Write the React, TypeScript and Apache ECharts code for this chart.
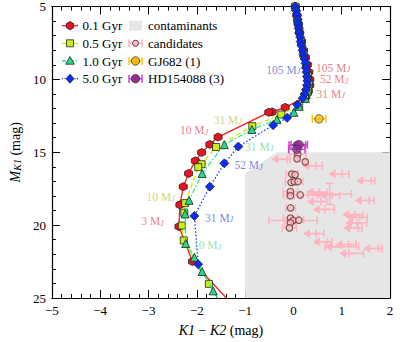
import React, { useEffect, useRef } from "react";
import * as echarts from "echarts";

const FONT = "'Liberation Serif', 'DejaVu Serif', serif";

// ---------- Isochrone tracks: K1-K2 (x) vs M_K1 (y) ----------
const gyr01X = [0.04, 0.07, 0.10, 0.13, 0.17, 0.21, 0.25, 0.29, 0.32, 0.34, 0.34, 0.31, 0.26, -0.17, -0.44, -0.51, -1.56, -1.73, -1.90, -2.03, -2.17, -2.28, -2.35, -2.37, -2.09, -1.25];
const gyr01Y = [5.0, 5.6, 6.2, 6.8, 7.4, 8.0, 8.5, 9.0, 9.5, 10.0, 10.4, 10.8, 11.2, 11.92, 12.23, 12.26, 13.96, 14.46, 15.02, 15.59, 16.45, 17.36, 18.61, 20.10, 22.50, 25.5];

const gyr05X = [0.04, 0.08, 0.12, 0.16, 0.21, 0.26, 0.30, 0.32, 0.30, 0.24, 0.12, -0.25, -0.85, -1.60, -1.90, -1.97, -2.24, -2.26, -2.31, -2.27, -1.75, -1.5];
const gyr05Y = [5.0, 5.8, 6.6, 7.4, 8.2, 9.0, 9.7, 10.3, 10.8, 11.3, 11.8, 12.41, 13.21, 14.64, 15.82, 16.02, 18.49, 19.15, 20.03, 21.05, 24.03, 25.4];

const gyr10X = [0.04, 0.08, 0.12, 0.16, 0.21, 0.26, 0.30, 0.32, 0.30, 0.25, 0.12, 0.01, -0.34, -0.86, -1.43, -1.89, -2.16, -2.24, -2.23, -2.05, -1.89, -1.66, -1.5];
const gyr10Y = [5.0, 5.8, 6.6, 7.4, 8.2, 9.0, 9.7, 10.3, 10.8, 11.3, 11.85, 12.26, 12.76, 13.44, 14.48, 16.46, 18.30, 19.23, 21.26, 22.21, 23.18, 24.51, 25.4];

const gyr50X = [0.04, 0.06, 0.08, 0.09, 0.10, 0.11, 0.12, 0.14, 0.15, 0.17, 0.19, 0.21, 0.23, 0.25, 0.26, 0.27, 0.28, 0.29, 0.28, 0.26, 0.23, 0.19, 0.08, -0.13, -0.42, -1.14, -1.43, -1.73, -2.05, -1.97];
const gyr50Y = [5.0, 5.3, 5.6, 5.9, 6.2, 6.5, 6.8, 7.1, 7.4, 7.7, 8.0, 8.3, 8.6, 8.9, 9.2, 9.5, 9.8, 10.1, 10.4, 10.7, 11.0, 11.3, 11.73, 12.64, 13.14, 14.61, 15.76, 17.36, 19.37, 22.69];

// ---------- Mass labels ----------
const annoX = [-0.56, 0.47, 0.55, 0.48, -1.65, -2.35, -1.0, -1.22, -3.04, -3.15, -1.83, -2.08];
const annoY = [9.35, 9.2, 10.0, 11.0, 12.76, 13.5, 14.61, 15.88, 18.04, 19.72, 19.5, 21.37];
const annoMass = ["105", "105", "52", "31", "31", "10", "31", "52", "10", "3", "31", "10"];
const annoTrack = [3, 0, 0, 0, 1, 0, 2, 3, 1, 0, 3, 2];

// ---------- Candidates ----------
const candX = [0.09, 0.076, 0.245, -0.033, 0.035, -0.047, 0.02, 0.096, -0.062, -0.062, 0.141, -0.058, -0.062, -0.006, 0.113, -0.062, -0.082];
const candY = [15.14, 15.44, 15.66, 16.5, 16.54, 17.07, 17.02, 17.01, 17.7, 17.99, 17.93, 18.82, 19.51, 19.68, 19.66, 19.84, 20.19];
const candXerr = [0.17, 0.05, 0.03, 0.12, 0.05, 0.12, 0.05, 0.1, 0.15, 0.08, 0.35, 0.1, 0.15, 0.5, 0.1, 0.12, 0.15];

// ---------- Upper limits (candidates with arrows) ----------
const ulX = [-0.1, 0.53, 1.08, 1.65, 0.75, 0.62, 0.88, 1.62, 0.63, 0.75, 1.36, 1.45, 1.42, 1.38, 0.55, 0.75, 1.22, 1.0, 1.8, 1.3];
const ulY = [15.48, 15.93, 16.5, 16.95, 17.86, 17.75, 17.95, 18.31, 18.38, 18.92, 19.29, 19.47, 19.85, 20.19, 20.58, 21.14, 21.33, 21.48, 21.6, 21.94];
const ulXerr = [0.03, 0.07, 0.07, 0.04, 0.45, 0.08, 0.08, 0.05, 0.06, 0.1, 0.08, 0.08, 0.1, 0.04, 0.08, 0.05, 0.08, 0.35, 0.04, 0.15];
const ulYerr = [0, 0, 0, 0, 0.73, 0, 0, 0, 0, 0, 0, 0, 0, 0, 0, 0, 0, 0, 0, 0];

// ---------- Known companions ----------
const gjX = [0.53];
const gjY = [12.71];
const gjXerr = [0.14];
const hdX = [0.08, 0.12, 0.07];
const hdY = [14.52, 14.48, 14.8];
const hdXerr = [0.17, 0.17, 0.17];

// ---------- Contaminant region ----------
const contamX = [-1, -0.35, 2, 2, -1];
const contamY = [16.5, 15, 15, 25, 25];

// ---------- Styles ----------
const RED = "#ee1122";
const YEL = "#ccee11";
const GRN = "#22dd88";
const BLU = "#0a2cff";
const trackColors = [RED, YEL, GRN, BLU];
const lineColors = ["#ff1a1a", "#ccee00", "#22ee88", "#1a33ff"];
const annoColors = ["#e35d70", "#bfcc5a", "#6fdca0", "#5b6bd8"];
const PINK = "#ffb3c1";
const hexPath = "path://M0,-10 L8.66,-5 L8.66,5 L0,10 L-8.66,5 L-8.66,-5 Z";

function zip(xs: number[], ys: number[]) {
  return xs.map((x, i) => [x, ys[i]]);
}

function errRender(color: string, cap: number, lw: number) {
  return (params: any, api: any) => {
    const x = api.value(0), y = api.value(1), xe = api.value(2);
    const ye = api.value(3) || 0;
    const l = api.coord([x - xe, y]);
    const r = api.coord([x + xe, y]);
    const st = { stroke: color, lineWidth: lw };
    const ch: any[] = [
      { type: "line", shape: { x1: l[0], y1: l[1], x2: r[0], y2: r[1] }, style: st },
      { type: "line", shape: { x1: l[0], y1: l[1] - cap, x2: l[0], y2: l[1] + cap }, style: st },
      { type: "line", shape: { x1: r[0], y1: r[1] - cap, x2: r[0], y2: r[1] + cap }, style: st },
    ];
    if (ye) {
      const t = api.coord([x, y - ye]);
      const b = api.coord([x, y + ye]);
      ch.push({ type: "line", shape: { x1: t[0], y1: t[1], x2: b[0], y2: b[1] }, style: st });
      ch.push({ type: "line", shape: { x1: t[0] - cap, y1: t[1], x2: t[0] + cap, y2: t[1] }, style: st });
      ch.push({ type: "line", shape: { x1: b[0] - cap, y1: b[1], x2: b[0] + cap, y2: b[1] }, style: st });
    }
    return { type: "group", children: ch };
  };
}

function ulRender(params: any, api: any) {
  const base: any = errRender(PINK, 4, 1.5)(params, api);
  const p = api.coord([api.value(0), api.value(1)]);
  const tip = p[0] - 17;
  base.children.push({ type: "line", shape: { x1: p[0], y1: p[1], x2: tip + 5, y2: p[1] }, style: { stroke: PINK, lineWidth: 1.8 } });
  base.children.push({ type: "polygon", shape: { points: [[tip, p[1]], [tip + 7, p[1] - 4.5], [tip + 7, p[1] + 4.5]] }, style: { fill: PINK } });
  return base;
}

function txt(x: number, y: number, s: string) {
  return {
    type: "text",
    x,
    y,
    style: { text: s, fill: "#000", fontFamily: FONT, fontSize: 13, textVerticalAlign: "middle", verticalAlign: "middle" },
  };
}

function buildLegend() {
  const els: any[] = [];
  const rows = [25.7, 43.3, 61, 78.7];
  const labels1 = ["0.1 Gyr", "0.5 Gyr", "1.0 Gyr", "5.0 Gyr"];
  const dashes: any[] = [null, [4, 2], [4, 1.5, 1, 1.5], [1, 1.5]];
  const cx = 70;
  rows.forEach((ry, i) => {
    els.push({ type: "line", shape: { x1: 62, y1: ry, x2: 78, y2: ry }, style: { stroke: lineColors[i], lineWidth: 1.3, lineDash: dashes[i] } });
    const ms = { fill: trackColors[i], stroke: "#222", lineWidth: 0.8 };
    if (i === 0) {
      const pts = [];
      for (let k = 0; k < 6; k++) {
        const a = (Math.PI / 3) * k - Math.PI / 2;
        pts.push([cx + 4.2 * Math.cos(a), ry + 4.2 * Math.sin(a)]);
      }
      els.push({ type: "polygon", shape: { points: pts }, style: ms });
    } else if (i === 1) {
      els.push({ type: "rect", shape: { x: cx - 3.5, y: ry - 3.5, width: 7, height: 7 }, style: ms });
    } else if (i === 2) {
      els.push({ type: "polygon", shape: { points: [[cx, ry - 4.5], [cx + 4.3, ry + 3.2], [cx - 4.3, ry + 3.2]] }, style: ms });
    } else {
      els.push({ type: "polygon", shape: { points: [[cx, ry - 4.5], [cx + 4, ry], [cx, ry + 4.5], [cx - 4, ry]] }, style: ms });
    }
    els.push(txt(82.5, ry, labels1[i]));
  });
  const labels2 = ["contaminants", "candidates", "GJ682 (1)", "HD154088 (3)"];
  const c2 = 135.5;
  els.push({ type: "rect", shape: { x: 129, y: rows[0] - 5, width: 13, height: 10 }, style: { fill: "#e6e6e6" } });
  const ebar = (ry: number, color: string, lw: number) => {
    const st = { stroke: color, lineWidth: lw };
    els.push({ type: "line", shape: { x1: 129, y1: ry, x2: 142, y2: ry }, style: st });
    els.push({ type: "line", shape: { x1: 129, y1: ry - 4, x2: 129, y2: ry + 4 }, style: st });
    els.push({ type: "line", shape: { x1: 142, y1: ry - 4, x2: 142, y2: ry + 4 }, style: st });
  };
  ebar(rows[1], PINK, 1.5);
  els.push({ type: "circle", shape: { cx: c2, cy: rows[1], r: 3 }, style: { fill: "#f5c0c8", stroke: "#6b2b2b", lineWidth: 1 } });
  ebar(rows[2], "#f0d000", 1.5);
  els.push({ type: "circle", shape: { cx: c2, cy: rows[2], r: 4.2 }, style: { fill: "#f6b800", stroke: "#333", lineWidth: 0.8 } });
  ebar(rows[3], "#cc44cc", 1.5);
  els.push({ type: "circle", shape: { cx: c2, cy: rows[3], r: 4.2 }, style: { fill: "#962a96", stroke: "#333", lineWidth: 0.8 } });
  rows.forEach((ry, i) => {
    els.push(txt(148, ry, labels2[i]));
  });
  return els;
}

export default function App() {
  const ref = useRef<HTMLDivElement>(null);
  useEffect(() => {
    if (!ref.current) return;
    const chart = echarts.init(ref.current, null, { renderer: "svg" });
    const axisCommon = {
      type: "value",
      axisLine: { show: true, onZero: false, lineStyle: { color: "#000", width: 1.2 } },
      axisTick: { show: true, inside: true, length: 8, lineStyle: { color: "#000", width: 1 } },
      minorTick: { show: true, splitNumber: 5, length: 4, lineStyle: { color: "#000", width: 1 } },
      splitLine: { show: false },
      minorSplitLine: { show: false },
    };
    const minus = (v: number) => String(v).replace("-", "\u2212");
    const tracks = [
      { x: gyr01X, y: gyr01Y, sym: hexPath, size: 8, dash: "solid" },
      { x: gyr05X, y: gyr05Y, sym: "rect", size: 7, dash: [5, 3] },
      { x: gyr10X, y: gyr10Y, sym: "triangle", size: 8, dash: [5, 2, 1.5, 2] },
      { x: gyr50X, y: gyr50Y, sym: "diamond", size: 9, dash: [1.5, 2] },
    ];
    const trackSeries = tracks.map((t, i) => ({
      type: "line",
      data: zip(t.x, t.y),
      symbol: t.sym,
      symbolSize: t.size,
      showSymbol: true,
      clip: true,
      itemStyle: { color: trackColors[i], borderColor: "#222", borderWidth: 0.8 },
      lineStyle: { color: lineColors[i], width: 1.3, type: t.dash },
      z: 5 + i,
      silent: true,
    }));
    const annoRich: any = {};
    annoColors.forEach((c, i) => {
      annoRich["n" + i] = { color: c, fontFamily: FONT, fontSize: 11.5, lineHeight: 12 };
      annoRich["j" + i] = { color: c, fontFamily: FONT, fontSize: 8.5, fontStyle: "italic", verticalAlign: "bottom", lineHeight: 9 };
    });
    const option: any = {
      animation: false,
      textStyle: { fontFamily: FONT },
      grid: { left: 48, right: 17, top: 6, bottom: 42, containLabel: false },
      xAxis: [
        {
          ...axisCommon,
          min: -5, max: 2, interval: 1, position: "bottom",
          axisLabel: { color: "#000", fontFamily: FONT, fontSize: 13, margin: 6, formatter: minus },
          name: "{i|K}{i|1} \u2212 {i|K}{i|2} (mag)",
          nameLocation: "middle",
          nameGap: 25,
          nameTextStyle: { color: "#000", fontFamily: FONT, fontSize: 14, rich: { i: { fontStyle: "italic", fontFamily: FONT, fontSize: 14, color: "#000" } } },
        },
        { ...axisCommon, min: -5, max: 2, interval: 1, position: "top", axisLabel: { show: false } },
      ],
      yAxis: [
        {
          ...axisCommon,
          min: 5, max: 25, interval: 5, inverse: true, position: "left",
          axisLabel: { color: "#000", fontFamily: FONT, fontSize: 13, margin: 6 },
          name: "{i|M}{s|K1} (mag)",
          nameLocation: "middle",
          nameGap: 28,
          nameTextStyle: {
            color: "#000", fontFamily: FONT, fontSize: 14,
            rich: {
              i: { fontStyle: "italic", fontFamily: FONT, fontSize: 14, color: "#000" },
              s: { fontStyle: "italic", fontFamily: FONT, fontSize: 10, color: "#000", verticalAlign: "bottom" },
            },
          },
        },
        { ...axisCommon, min: 5, max: 25, interval: 5, inverse: true, position: "right", axisLabel: { show: false } },
      ],
      series: [
        {
          type: "custom",
          data: [0],
          z: 1,
          silent: true,
          renderItem: (params: any, api: any) => ({
            type: "polygon",
            shape: { points: contamX.map((x, i) => api.coord([x, contamY[i]])) },
            style: { fill: "#e6e6e6" },
          }),
        },
        {
          type: "custom",
          data: candX.map((x, i) => [x, candY[i], candXerr[i], 0]),
          encode: { x: 0, y: 1 },
          z: 2,
          silent: true,
          renderItem: errRender(PINK, 4, 1.5),
        },
        {
          type: "custom",
          data: ulX.map((x, i) => [x, ulY[i], ulXerr[i], ulYerr[i]]),
          encode: { x: 0, y: 1 },
          z: 2,
          silent: true,
          renderItem: ulRender,
        },
        {
          type: "scatter",
          data: zip(candX, candY),
          symbol: "circle",
          symbolSize: 6.5,
          itemStyle: { color: "#f5c0c8", borderColor: "#6b2b2b", borderWidth: 1.1 },
          z: 3,
          silent: true,
        },
        {
          type: "custom",
          data: gjX.map((x, i) => [x, gjY[i], gjXerr[i], 0]),
          encode: { x: 0, y: 1 },
          z: 3,
          silent: true,
          renderItem: errRender("#f0d000", 4, 1.5),
        },
        {
          type: "scatter",
          data: zip(gjX, gjY),
          symbolSize: 8.5,
          itemStyle: { color: "#f6b800", borderColor: "#333", borderWidth: 0.8 },
          z: 4,
          silent: true,
        },
        {
          type: "custom",
          data: hdX.map((x, i) => [x, hdY[i], hdXerr[i], 0]),
          encode: { x: 0, y: 1 },
          z: 3,
          silent: true,
          renderItem: errRender("#cc44cc", 4, 1.5),
        },
        {
          type: "scatter",
          data: zip(hdX, hdY),
          symbolSize: 8.5,
          itemStyle: { color: "#962a96", borderColor: "#333", borderWidth: 0.8 },
          z: 4,
          silent: true,
        },
        ...trackSeries,
        {
          type: "scatter",
          symbolSize: 0,
          z: 20,
          silent: true,
          data: annoX.map((x, i) => ({
            value: [x, annoY[i]],
            label: {
              show: true,
              position: "right",
              distance: 0,
              formatter: `{n${annoTrack[i]}|${annoMass[i]} M}{j${annoTrack[i]}|J}`,
              rich: annoRich,
            },
          })),
        },
      ],
      graphic: buildLegend(),
    };
    chart.setOption(option);
    return () => chart.dispose();
  }, []);
  return <div ref={ref} style={{ position: "fixed", left: 0, top: 0, width: 407, height: 342, background: "#fff" }} />;
}
